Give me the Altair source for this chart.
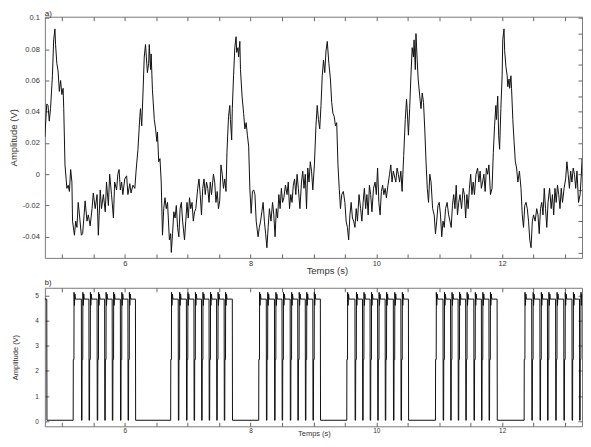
import altair as alt
import pandas as pd

# ---------------- panel a) : amplitude (V) vs time (s) ----------------
seg_a1 = [(4.73,0.024),(4.76,0.045),(4.78,0.044),(4.80,0.034),(4.82,0.042),(4.85,0.063),(4.87,0.086),(4.89,0.093),(4.90,0.083),(4.92,0.071),(4.94,0.066),(4.96,0.053),(4.98,0.060),(5.00,0.051),(5.02,0.055),(5.03,0.042),(5.05,0.006),(5.08,-0.009),(5.10,-0.007),(5.12,-0.011),(5.14,0.003),(5.16,-0.005),(5.17,-0.030),(5.20,-0.039),(5.22,-0.030),(5.24,-0.034),(5.26,-0.018),(5.28,-0.026),(5.31,-0.039),(5.33,-0.038),(5.35,-0.028),(5.37,-0.017),(5.40,-0.030),(5.42,-0.026),(5.45,-0.033),(5.48,-0.022),(5.50,-0.012),(5.53,-0.022),(5.56,-0.013),(5.58,-0.039),(5.61,-0.010),(5.63,-0.022),(5.66,-0.013),(5.69,-0.024),(5.71,-0.005),(5.74,-0.020),(5.76,0.000),(5.79,-0.013),(5.82,-0.028),(5.84,-0.005),(5.87,-0.010),(5.89,0.000),(5.91,0.003),(5.93,-0.010),(5.95,-0.005),(5.97,-0.013),(6.00,-0.003),(6.03,-0.001),(6.05,-0.013),(6.08,-0.006),(6.10,-0.012),(6.13,-0.007),(6.16,-0.009),(6.18,0.002),(6.21,0.016),(6.24,0.037),(6.25,0.042),(6.27,0.031),(6.29,0.052),(6.31,0.075),(6.33,0.083),(6.36,0.065),(6.38,0.071),(6.39,0.083),(6.41,0.067),(6.42,0.077),(6.44,0.054),(6.47,0.035),(6.49,0.029),(6.51,0.021),(6.52,0.027),(6.54,0.008),(6.56,0.010),(6.58,-0.005),(6.60,-0.039),(6.62,-0.022),(6.64,-0.015),(6.66,-0.022),(6.68,-0.018),(6.71,-0.042),(6.73,-0.038),(6.74,-0.050),(6.76,-0.038),(6.78,-0.024),(6.80,-0.028),(6.82,-0.020),(6.84,-0.034),(6.86,-0.040),(6.88,-0.022),(6.90,-0.018),(6.92,-0.030),(6.95,-0.042),(6.97,-0.030),(6.99,-0.018),(7.01,-0.028),(7.03,-0.015),(7.05,-0.022),(7.07,-0.018),(7.09,-0.030),(7.11,-0.024),(7.13,-0.022),(7.16,-0.009),(7.18,-0.003),(7.20,-0.013),(7.22,-0.026),(7.24,-0.009),(7.26,-0.003),(7.28,-0.013),(7.30,-0.005),(7.32,-0.009),(7.34,-0.018),(7.36,-0.005),(7.38,-0.013),(7.41,0.000),(7.43,-0.005),(7.45,-0.018),(7.47,-0.011),(7.49,-0.022)]

seg_a2 = [(7.51,-0.017),(7.53,0.006),(7.55,0.000),(7.57,-0.009),(7.59,-0.003),(7.61,-0.011),(7.625,0.014),(7.65,0.037),(7.67,0.044),(7.68,0.035),(7.70,0.022),(7.71,0.042),(7.73,0.063),(7.75,0.081),(7.77,0.088),(7.78,0.078),(7.80,0.081),(7.81,0.075),(7.83,0.085),(7.84,0.067),(7.865,0.050),(7.89,0.039),(7.91,0.029),(7.93,0.033),(7.95,0.025),(7.97,0.018),(7.99,-0.010),(8.01,-0.025),(8.03,-0.011),(8.05,-0.010),(8.07,-0.013),(8.09,-0.030),(8.12,-0.040),(8.14,-0.034),(8.16,-0.030),(8.18,-0.024),(8.20,-0.018),(8.22,-0.030),(8.24,-0.038),(8.26,-0.047),(8.28,-0.034),(8.30,-0.022),(8.325,-0.030),(8.35,-0.018),(8.37,-0.026),(8.39,-0.040),(8.41,-0.022),(8.43,-0.028),(8.45,-0.013),(8.47,-0.022),(8.49,-0.009),(8.51,-0.018),(8.53,-0.015),(8.555,-0.007),(8.58,-0.013),(8.60,-0.005),(8.62,-0.022),(8.64,-0.013),(8.66,-0.018),(8.68,-0.007),(8.70,-0.003),(8.72,-0.013),(8.74,0.000),(8.76,-0.009),(8.785,-0.022),(8.81,-0.005),(8.83,0.002),(8.85,-0.009),(8.87,0.000),(8.89,-0.022),(8.91,0.004),(8.93,-0.005),(8.95,0.008),(8.97,0.002),(8.99,-0.010),(9.015,0.006),(9.04,0.031),(9.06,0.044),(9.08,0.035),(9.10,0.029),(9.12,0.044),(9.14,0.063),(9.16,0.073),(9.18,0.065),(9.20,0.079),(9.22,0.085),(9.245,0.071),(9.27,0.061),(9.29,0.046),(9.31,0.039),(9.33,0.037),(9.35,0.031),(9.37,0.033),(9.39,0.006),(9.41,-0.009),(9.43,-0.022),(9.45,-0.013),(9.475,-0.011),(9.50,-0.018),(9.52,-0.030),(9.54,-0.034),(9.56,-0.042),(9.58,-0.026),(9.60,-0.018),(9.62,-0.028),(9.64,-0.030),(9.66,-0.034),(9.68,-0.022),(9.70,-0.030),(9.725,-0.013),(9.75,-0.022),(9.77,-0.030),(9.79,-0.018),(9.81,-0.009),(9.83,-0.022),(9.85,-0.013),(9.87,-0.026),(9.89,-0.007),(9.91,-0.013),(9.93,-0.024),(9.955,-0.009),(9.98,-0.005),(10.00,-0.013),(10.02,0.004),(10.04,-0.018),(10.06,-0.026),(10.08,-0.011),(10.10,-0.007),(10.12,-0.013),(10.14,-0.009),(10.16,-0.015),(10.185,-0.007),(10.21,0.000),(10.23,0.006),(10.25,-0.005),(10.27,0.002)]

seg_a3 = [(10.31,-0.005),(10.33,0.004),(10.35,0.000),(10.37,-0.005),(10.39,0.002),(10.41,-0.011),(10.435,0.012),(10.46,0.035),(10.48,0.048),(10.49,0.042),(10.51,0.025),(10.53,0.042),(10.55,0.063),(10.57,0.081),(10.59,0.075),(10.60,0.086),(10.62,0.067),(10.63,0.090),(10.65,0.073),(10.665,0.061),(10.69,0.050),(10.71,0.042),(10.73,0.052),(10.75,0.046),(10.77,0.029),(10.79,0.008),(10.81,-0.009),(10.83,-0.018),(10.85,0.000),(10.87,-0.005),(10.895,-0.022),(10.92,-0.026),(10.94,-0.038),(10.96,-0.030),(10.98,-0.020),(11.00,-0.018),(11.02,-0.026),(11.04,-0.040),(11.06,-0.030),(11.08,-0.034),(11.10,-0.022),(11.125,-0.018),(11.15,-0.026),(11.17,-0.030),(11.19,-0.034),(11.21,-0.020),(11.23,-0.013),(11.25,-0.022),(11.27,-0.007),(11.29,-0.026),(11.31,-0.018),(11.33,-0.013),(11.355,-0.022),(11.38,-0.009),(11.40,-0.013),(11.42,-0.028),(11.44,-0.013),(11.46,-0.022),(11.48,-0.009),(11.50,0.000),(11.52,-0.013),(11.54,-0.005),(11.56,-0.013),(11.585,0.000),(11.61,0.004),(11.63,-0.005),(11.65,0.002),(11.67,-0.009),(11.69,-0.005),(11.71,0.000),(11.73,-0.011),(11.75,0.004),(11.77,0.000),(11.79,0.006),(11.815,-0.013),(11.84,-0.009),(11.86,0.014),(11.88,0.031),(11.90,0.044),(11.91,0.035),(11.93,0.050),(11.945,0.025),(11.96,0.016),(11.98,0.042),(12.00,0.063),(12.01,0.086),(12.03,0.093),(12.04,0.079),(12.06,0.069),(12.08,0.063),(12.09,0.056),(12.11,0.061),(12.12,0.055),(12.14,0.063),(12.15,0.055),(12.17,0.035),(12.19,0.021),(12.21,0.008),(12.23,0.004),(12.25,-0.005),(12.275,0.002),(12.30,-0.009),(12.32,-0.026),(12.34,-0.034),(12.36,-0.020),(12.38,-0.018),(12.40,-0.022),(12.42,-0.030),(12.44,-0.042),(12.46,-0.047),(12.48,-0.030),(12.50,-0.026),(12.525,-0.030),(12.55,-0.022),(12.57,-0.026),(12.59,-0.038),(12.61,-0.022),(12.63,-0.018),(12.65,-0.026),(12.67,-0.009),(12.69,-0.022),(12.71,-0.034),(12.73,-0.018),(12.755,-0.009),(12.78,-0.022),(12.80,-0.013),(12.82,-0.026),(12.84,-0.009),(12.86,-0.018),(12.88,-0.007),(12.90,-0.013),(12.92,-0.022),(12.94,-0.009),(12.96,-0.018),(12.985,-0.009),(13.01,-0.003),(13.03,0.008),(13.05,0.000),(13.07,-0.009),(13.09,0.002),(13.11,-0.005),(13.13,0.004),(13.15,0.000),(13.17,-0.009),(13.19,0.002),(13.215,-0.018),(13.24,-0.013),(13.26,0.000),(13.27,0.010)]

# ---------------- panel b) : pulse train ----------------
burst_rise = [4.60, 5.18, 6.73, 8.13, 9.53, 10.94, 12.35]
burst_fall = [4.76, 6.17, 7.71, 9.11, 10.51, 11.92, 13.40]
burst_dips = [
    [],
    [5.31, 5.43, 5.56, 5.68, 5.80, 5.93, 6.05],
    [6.85, 6.98, 7.10, 7.22, 7.34, 7.46, 7.58],
    [8.25, 8.38, 8.50, 8.63, 8.75, 8.87, 8.99],
    [9.66, 9.78, 9.90, 10.02, 10.14, 10.27, 10.39],
    [11.06, 11.18, 11.30, 11.42, 11.55, 11.67, 11.79],
    [12.47, 12.60, 12.72, 12.85, 12.98, 13.11, 13.23],
]
HIGH, LOW, MID = 4.85, 0.04, 2.45
# (time offset after the edge, level) read from the rising edges
rise_shape = [(0.0, LOW), (0.002, MID), (0.012, MID), (0.014, 5.12), (0.020, 4.6), (0.028, 5.05), (0.036, HIGH)]

# axis tick values
x_label_vals = [6, 8, 10, 12]
x_minor = [5.0, 5.5, 6.0, 6.5, 7.0, 7.5, 8.0, 8.5, 9.0, 9.5, 10.0, 10.5, 11.0, 11.5, 12.0, 12.5, 13.0]
ya_labels = [-0.04, -0.02, 0, 0.02, 0.04, 0.06, 0.08, 0.1]
ya_right = [-0.05, -0.04, -0.03, -0.02, -0.01, 0, 0.01, 0.02, 0.03, 0.04, 0.05, 0.06, 0.07, 0.08, 0.09, 0.1]
yb_labels = [0, 1, 2, 3, 4, 5]

X_DOM = [4.73, 13.27]
W = 539

# ---- tables ----
rows_a = seg_a1 + seg_a2 + seg_a3
df_a = pd.DataFrame({"t": [p[0] for p in rows_a], "v": [p[1] for p in rows_a]})
df_a["i"] = range(len(df_a))

rows_b = []
for r, f, dips in zip(burst_rise, burst_fall, burst_dips):
    rows_b += [(r + o, lv) for o, lv in rise_shape]
    for td in dips:
        rows_b += [(td, HIGH), (td + 0.003, LOW)]
        rows_b += [(td + 0.010 + o, lv) for o, lv in rise_shape]
    rows_b += [(f, HIGH), (f + 0.003, LOW)]
df_b = pd.DataFrame({"t": [p[0] for p in rows_b], "v": [p[1] for p in rows_b]})
df_b["i"] = range(len(df_b))


def panel(df, y_dom, H, y_lab, y_left, y_right, lab_fs, tit_fs, ypad, ytpad,
          xpad, xtpad, ttl, ttl_fs, ttl_off, xtitle_x):
    xs = alt.Scale(domain=X_DOM, nice=False, zero=False)
    ys = alt.Scale(domain=y_dom, nice=False, zero=False)
    base = alt.Chart(df).encode(order="i:Q")
    main = base.mark_line(color="#111111", strokeWidth=1, clip=True).encode(
        x=alt.X("t:Q", scale=xs, axis=alt.Axis(
            orient="bottom", values=x_label_vals, ticks=False, tickSize=0,
            labelFontSize=lab_fs, labelPadding=xpad, title="Temps (s)",
            titleFontSize=tit_fs, titlePadding=xtpad, titleX=xtitle_x)),
        y=alt.Y("v:Q", scale=ys, axis=alt.Axis(
            orient="left", values=y_lab, ticks=False, tickSize=0,
            labelExpr="'' + datum.value", labelFontSize=lab_fs,
            labelPadding=ypad, title="Amplitude (V)", titleFontSize=tit_fs,
            titlePadding=ytpad)),
    )
    # inward ticks on the bottom and left edges
    t1 = base.mark_line(strokeOpacity=0, clip=True).encode(
        x=alt.X("t:Q", scale=xs, axis=alt.Axis(
            orient="top", offset=-H, values=x_minor, labels=False, tickSize=4, title=None)),
        y=alt.Y("v:Q", scale=ys, axis=alt.Axis(
            orient="right", offset=-W, values=y_left, labels=False, tickSize=4, title=None)),
    )
    # inward ticks on the top and right edges
    t2 = base.mark_line(strokeOpacity=0, clip=True).encode(
        x=alt.X("t:Q", scale=xs, axis=alt.Axis(
            orient="bottom", offset=-H, values=x_minor, labels=False, tickSize=4, title=None)),
        y=alt.Y("v:Q", scale=ys, axis=alt.Axis(
            orient="left", offset=-W, values=y_right, labels=False, tickSize=4, title=None)),
    )
    return alt.layer(main, t1, t2).resolve_axis(x="independent", y="independent").properties(
        width=W, height=H,
        title=alt.TitleParams(ttl, anchor="start", frame="group", fontSize=ttl_fs,
                              fontWeight="normal", offset=ttl_off, color="#222222"),
    )


top = panel(df_a, [-0.0535, 0.1008], 242, ya_labels, ya_labels, ya_right,
            7.5, 9.5, 5.5, 3.5, 2, -2, "a)", 8, -4, 283)
bot = panel(df_b, [-0.2, 5.3], 139, yb_labels, yb_labels, yb_labels,
            6.5, 7.5, 6.5, 15, 1, -4, "b)", 7.5, 1, 270)

chart = alt.vconcat(top, bot, spacing=2).properties(padding=0).configure_view(
    stroke="#7a7a7a", strokeWidth=1
).configure_axis(
    grid=False, domain=False, labelColor="#333333", titleColor="#333333",
    labelFont="Liberation Sans", titleFont="Liberation Sans",
    titleFontWeight="normal", tickColor="#666666", tickWidth=1,
).configure_title(font="Liberation Sans")

chart.save("out.html", embed_options={"renderer": "svg", "actions": False})
